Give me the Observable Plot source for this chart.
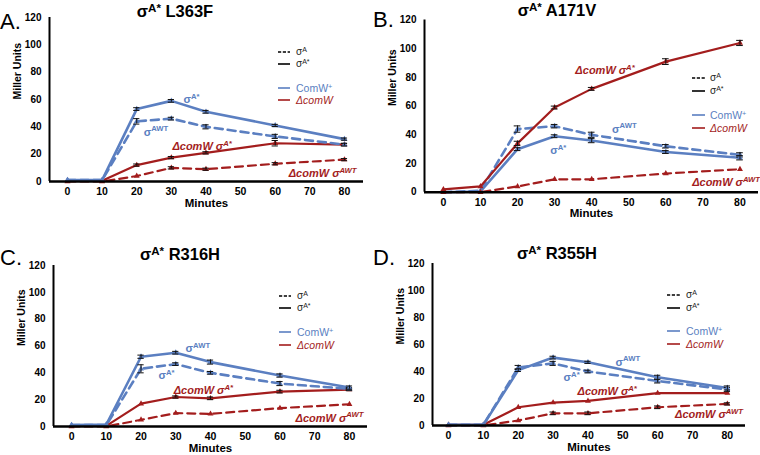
<!DOCTYPE html>
<html><head><meta charset="utf-8">
<script src="https://cdn.jsdelivr.net/npm/d3@7"></script>
<script src="https://cdn.jsdelivr.net/npm/@observablehq/plot@0.6"></script>
<style>
body{margin:0;background:#fff;font-family:"Liberation Sans",Arial,sans-serif;}
#fig{position:relative;width:760px;height:455px;overflow:hidden;background:#fff;}
.abs{position:absolute;}
.title{font-weight:bold;font-size:16.5px;color:#000;white-space:nowrap;transform:translate(-50%,-50%);line-height:1.1;}
.title sup{font-size:70%;vertical-align:0;position:relative;top:-0.45em;}
.letter{font-size:22px;color:#000;line-height:1;transform:translateY(-50%);}
.leg{font-size:10px;color:#222;white-space:nowrap;line-height:1;transform:translateY(-50%);}
.leg sup{font-size:70%;vertical-align:0;position:relative;top:-0.45em;}
</style></head>
<body><div id="fig"></div>
<script>
// ---------- shared ----------
const minutes = [0, 10, 20, 30, 40, 60, 80];
const xTicks = [0, 10, 20, 30, 40, 50, 60, 70, 80];
const yTicks = [0, 20, 40, 60, 80, 100, 120];
const BLUE = "#5b7fc1", RED = "#a31d1d";
const FONT = "'Liberation Sans', Arial, sans-serif";

// ---------- Panel A: σA* L363F ----------
const aComWSolid = [1, 1, 53, 59, 51, 41, 31];
const aComWDash  = [1, 1, 44, 46, 40, 33, 27];
const aDelSolid  = [0.5, 0.5, 12, 17.5, 21, 28, 27];
const aDelDash   = [0, 0, 4, 10, 9, 13, 16];
const aErrComWSolid = [0.5, 0.5, 1, 1, 1, 0.8, 0.8];
const aErrComWDash  = [0.5, 0.5, 2, 1, 1.5, 1.5, 1];
const aErrDelSolid  = [0, 0, 0.8, 0.8, 0.8, 2, 0.8];
const aErrDelDash   = [0, 0, 0.5, 0.8, 0.8, 0.8, 0.8];
const aLabelText = ["σ^{A*}", "σ^{AWT}", "ΔcomW σ^{A*}", "ΔcomW σ^{AWT}"];
const aLabelX = [33.5, 22, 30.3, 63.9];
const aLabelY = [60, 36, 25.6, 5.8];

// ---------- Panel B: σA* A171V ----------
const bComWSolid = [0, 0.5, 30, 39, 36, 28, 24];
const bComWDash  = [0, 1, 44, 46, 40, 32, 26];
const bDelSolid  = [2, 4, 34, 59, 72, 91, 104];
const bDelDash   = [0, 0, 4, 9, 9, 13, 16];
const bErrComWSolid = [0, 0, 1, 1, 1.5, 1, 1.5];
const bErrComWDash  = [0, 0.5, 2.2, 1.2, 1.8, 1.2, 1.5];
const bErrDelSolid  = [0.5, 0.5, 1.5, 1, 1, 2, 1.8];
const bErrDelDash   = [0, 0, 0.5, 0.5, 0.5, 0.5, 0.5];
const bLabelText = ["σ^{A*}", "σ^{AWT}", "ΔcomW σ^{A*}", "ΔcomW σ^{AWT}"];
const bLabelX = [28.8, 45.5, 35.6, 67.1];
const bLabelY = [29, 44, 84.5, 6.7];

// ---------- Panel C: σA* R316H ----------
const cComWSolid = [1, 1.5, 52, 55, 48, 38, 29];
const cComWDash  = [1, 1, 43, 46.5, 40, 32, 28];
const cDelSolid  = [0.5, 0.5, 17, 22, 21, 26, 27.5];
const cDelDash   = [0, 0, 5, 10, 9.4, 13.7, 16.6];
const cErrComWSolid = [0.5, 0.5, 1.2, 1, 1.5, 1.2, 1.2];
const cErrComWDash  = [0, 0.5, 3, 1, 1, 1.5, 1];
const cErrDelSolid  = [0, 0, 0.5, 0.8, 1, 1, 0.8];
const cErrDelDash   = [0, 0, 0.5, 0.5, 0.5, 0.5, 0.5];
const cLabelText = ["σ^{AWT}", "σ^{A*}", "ΔcomW σ^{A*}", "ΔcomW σ^{AWT}"];
const cLabelX = [32.8, 25, 29.4, 64.5];
const cLabelY = [58, 38, 26.8, 6];

// ---------- Panel D: σA* R355H ----------
const dComWSolid = [0.5, 0.5, 41, 50.3, 46.8, 35.7, 27.8];
const dComWDash  = [0.5, 0.5, 43, 46, 40, 33, 26.6];
const dDelSolid  = [0.5, 0.5, 13.5, 17, 18.2, 24, 24];
const dDelDash   = [0, 0, 3.7, 9, 9, 13.5, 16];
const dErrComWSolid = [0, 0, 1, 1, 0.8, 1.5, 1.5];
const dErrComWDash  = [0, 0, 1.5, 1.5, 1, 1.5, 1.5];
const dErrDelSolid  = [0, 0, 0.5, 0.5, 0.5, 0.5, 0.5];
const dErrDelDash   = [0, 0, 0.5, 1, 1, 1, 0.8];
const dLabelText = ["σ^{AWT}", "σ^{A*}", "ΔcomW σ^{A*}", "ΔcomW σ^{AWT}"];
const dLabelX = [47.9, 33, 37, 65];
const dLabelY = [46.7, 35.5, 25, 8];

const titles = ["L363F", "A171V", "R316H", "R355H"];
const letters = ["A.", "B.", "C.", "D."];

// ---------- helpers ----------
function rows(vals, errs) {
  return minutes.map((m, i) => ({x: m, y: vals[i], e: errs[i]}));
}
function supify(svg) {
  svg.querySelectorAll("text").forEach(el => {
    const s = el.textContent;
    if (!s.includes("^{")) return;
    el.textContent = "";
    const parts = s.split(/(\^\{[^}]*\})/).filter(p => p.length);
    let raised = false;
    parts.forEach(p => {
      const t = document.createElementNS("http://www.w3.org/2000/svg", "tspan");
      if (p.startsWith("^{")) {
        t.textContent = p.slice(2, -1);
        t.setAttribute("font-size", "0.7em");
        t.setAttribute("dy", "-4.5");
        raised = true;
      } else {
        t.textContent = p;
        if (raised) { t.setAttribute("dy", "4.5"); raised = false; }
      }
      el.appendChild(t);
    });
  });
}

function panel(cfg) {
  const series = [
    {vals: cfg.delDash, errs: cfg.errDelDash, color: RED, dash: "8,5", w: 2.2},
    {vals: cfg.delSolid, errs: cfg.errDelSolid, color: RED, dash: null, w: 2.2},
    {vals: cfg.comwDash, errs: cfg.errComwDash, color: BLUE, dash: "8,5", w: 2.6},
    {vals: cfg.comwSolid, errs: cfg.errComwSolid, color: BLUE, dash: null, w: 2.6}
  ];
  const order = cfg.blueFirst ? [2, 3, 0, 1] : [0, 1, 2, 3];
  const marks = [
    Plot.axisX({ticks: xTicks, tickSize: 0, tickPadding: 6, fontSize: 10.5, fontWeight: "bold", label: null}),
    Plot.axisY({ticks: yTicks, tickSize: 0, tickPadding: 8, fontSize: 10, fontWeight: "bold", label: null}),
    Plot.text(["Miller Units"], {frameAnchor: "left", dx: -32, rotate: -90, fontSize: 10.5, fontWeight: "bold", fill: "#000"}),
    Plot.text(["Minutes"], {frameAnchor: "bottom", dy: 25, fontSize: 11.5, fontWeight: "bold", fill: "#000"})
  ];
  order.forEach(k => {
    const s = series[k];
    const data = rows(s.vals, s.errs);
    marks.push(Plot.line(data, {x: "x", y: "y", stroke: s.color, strokeWidth: s.w, strokeDasharray: s.dash || undefined, curve: "linear"}));
  });
  order.forEach(k => {
    const s = series[k];
    const data = rows(s.vals, s.errs);
    const eb = data.filter(d => d.e > 0.6);
    marks.push(Plot.dot(data, {x: "x", y: "y", symbol: "triangle", r: 2.2, fill: s.color}));
    marks.push(Plot.ruleX(eb, {x: "x", y1: d => d.y - d.e, y2: d => d.y + d.e, stroke: "#111", strokeWidth: 1}));
    marks.push(Plot.ruleY(eb, {y: d => d.y + d.e, x1: d => d.x - 0.9, x2: d => d.x + 0.9, stroke: "#111", strokeWidth: 1}));
    marks.push(Plot.ruleY(eb, {y: d => d.y - d.e, x1: d => d.x - 0.9, x2: d => d.x + 0.9, stroke: "#111", strokeWidth: 1}));
  });
  const labs = cfg.labelText.map((t, i) => ({t, x: cfg.labelX[i], y: cfg.labelY[i], red: t.startsWith("Δ")}));
  marks.push(Plot.text(labs.filter(d => !d.red), {x: "x", y: "y", text: "t", textAnchor: "start", fill: BLUE, fontSize: 11, fontWeight: "bold"}));
  marks.push(Plot.text(labs.filter(d => d.red), {x: "x", y: "y", text: "t", textAnchor: "start", fill: RED, fontSize: 11, fontWeight: "bold", fontStyle: "italic"}));
  marks.push(Plot.ruleX([cfg.xdom[0]], {stroke: "#000", strokeWidth: 2}));
  marks.push(Plot.ruleY([0], {stroke: "#000", strokeWidth: 2.5}));

  const svg = Plot.plot({
    width: cfg.w, height: cfg.h,
    marginLeft: cfg.ml, marginRight: cfg.mr, marginTop: cfg.mt, marginBottom: cfg.mb,
    x: {domain: cfg.xdom},
    y: {domain: [0, 120]},
    style: {fontFamily: FONT, background: "transparent", overflow: "visible", color: "#000"},
    marks
  });
  supify(svg);
  svg.style.position = "absolute";
  svg.style.left = cfg.left + "px";
  svg.style.top = cfg.top + "px";
  return svg;
}

function addDiv(cls, html, left, top) {
  const d = document.createElement("div");
  d.className = "abs " + cls;
  d.innerHTML = html;
  d.style.left = left + "px";
  d.style.top = top + "px";
  fig.appendChild(d);
}
function legend(lx, tx, y1, y2, y3, y4, len) {
  const sample = (y, color, dash) => {
    const s = document.createElementNS("http://www.w3.org/2000/svg", "svg");
    s.setAttribute("width", len); s.setAttribute("height", 4);
    s.style.position = "absolute"; s.style.left = lx + "px"; s.style.top = (y - 2) + "px";
    s.innerHTML = `<line x1="0" x2="${len}" y1="2" y2="2" stroke="${color}" stroke-width="1.6" ${dash ? 'stroke-dasharray="3.2,1.6"' : ''}/>`;
    fig.appendChild(s);
  };
  sample(y1, "#000", true); sample(y2, "#000", false);
  sample(y3, BLUE, false); sample(y4, RED, false);
  addDiv("leg", "σ<sup>A</sup>", tx, y1);
  addDiv("leg", "σ<sup>A*</sup>", tx, y2);
  addDiv("leg", `<span style="color:${BLUE};font-size:10.5px">ComW<sup>+</sup></span>`, tx, y3);
  addDiv("leg", `<span style="color:${RED};font-size:10.5px;font-style:italic">ΔcomW</span>`, tx, y4);
}

const fig = document.getElementById("fig");

fig.appendChild(panel({left: 0, top: 0, w: 380, h: 220, ml: 49, mr: 17, mt: 17, mb: 39, xdom: [-5.2, 85.5],
  comwSolid: aComWSolid, comwDash: aComWDash, delSolid: aDelSolid, delDash: aDelDash,
  errComwSolid: aErrComWSolid, errComwDash: aErrComWDash, errDelSolid: aErrDelSolid, errDelDash: aErrDelDash,
  labelText: aLabelText, labelX: aLabelX, labelY: aLabelY}));
fig.appendChild(panel({left: 380, top: 0, w: 380, h: 232, ml: 44, mr: 2, mt: 19.5, mb: 40.3, xdom: [-5.1, 85], blueFirst: true,
  comwSolid: bComWSolid, comwDash: bComWDash, delSolid: bDelSolid, delDash: bDelDash,
  errComwSolid: bErrComWSolid, errComwDash: bErrComWDash, errDelSolid: bErrDelSolid, errDelDash: bErrDelDash,
  labelText: bLabelText, labelX: bLabelX, labelY: bLabelY}));
fig.appendChild(panel({left: 0, top: 225, w: 380, h: 230, ml: 53, mr: 13, mt: 40, mb: 29, xdom: [-5.2, 85.2],
  comwSolid: cComWSolid, comwDash: cComWDash, delSolid: cDelSolid, delDash: cDelDash,
  errComwSolid: cErrComWSolid, errComwDash: cErrComWDash, errDelSolid: cErrDelSolid, errDelDash: cErrDelDash,
  labelText: cLabelText, labelX: cLabelX, labelY: cLabelY}));
fig.appendChild(panel({left: 380, top: 225, w: 380, h: 230, ml: 52, mr: 15, mt: 38, mb: 30, xdom: [-4.6, 85.2],
  comwSolid: dComWSolid, comwDash: dComWDash, delSolid: dDelSolid, delDash: dDelDash,
  errComwSolid: dErrComWSolid, errComwDash: dErrComWDash, errDelSolid: dErrDelSolid, errDelDash: dErrDelDash,
  labelText: dLabelText, labelX: dLabelX, labelY: dLabelY}));

// titles & letters
const titlePos = [[175, 11], [557, 10], [180, 254], [557, 253]];
const letterPos = [[0, 22], [373, 20], [0, 258], [373, 258]];
titles.forEach((t, i) => addDiv("title", `σ<sup>A*</sup> ${t}`, titlePos[i][0], titlePos[i][1]));
letters.forEach((t, i) => addDiv("letter", t, letterPos[i][0], letterPos[i][1]));

// legends
legend(278, 296, 52, 64, 88, 100, 12);
legend(692, 710, 78, 91, 115, 128, 13);
legend(279, 297, 296, 308, 332, 345, 12);
legend(667, 686, 295, 308, 331, 344, 13);
</script></body></html>
